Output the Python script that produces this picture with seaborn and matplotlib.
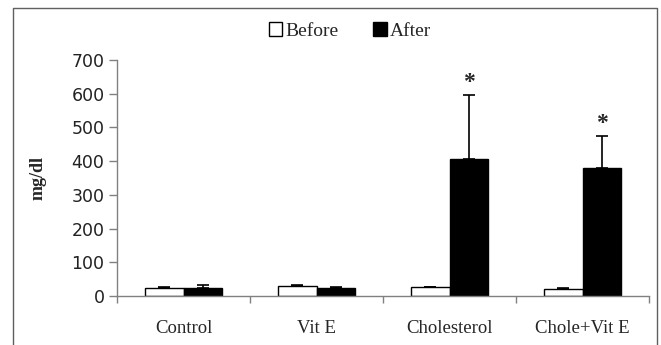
import matplotlib
matplotlib.use("Agg")
import matplotlib.pyplot as plt
import seaborn as sns
import pandas as pd
import numpy as np
from matplotlib.lines import Line2D
from matplotlib.patches import Patch

categories = ["Control", "Vit E", "Cholesterol", "Chole+Vit E"]
before = [24, 31, 27, 22]
before_err = [2, 3, 1, 2]
after = [24, 24, 407, 380]
after_err = [9, 2, 190, 94]
significant = [False, False, True, True]
series = ["Before", "After"]
ytick_vals = [0, 100, 200, 300, 400, 500, 600, 700]

sns.set_theme(style="white")
plt.rcParams["font.family"] = ["Liberation Serif", "DejaVu Serif"]

df = pd.DataFrame({
    "cat": categories * 2,
    "val": before + after,
    "grp": ["Before"] * 4 + ["After"] * 4,
})

fig = plt.figure(figsize=(6.61, 3.45), dpi=100)
ax = fig.add_axes([117 / 661, 1 - 296 / 345, (649 - 117) / 661, (296 - 60) / 345])

sns.barplot(data=df, x="cat", y="val", hue="grp", order=categories,
            hue_order=series, palette={"Before": "white", "After": "black"},
            width=0.58, edgecolor="black", linewidth=1, errorbar=None,
            legend=False, ax=ax)

# error bars on top of bars (upward only)
patches = [p for p in ax.patches if p.get_height() > 0]
n = len(categories)
errs = before_err + after_err
vals = before + after
for i, p in enumerate(patches[:2 * n]):
    xc = p.get_x() + p.get_width() / 2
    ax.errorbar(xc, vals[i], yerr=[[0], [errs[i]]], fmt="none",
                ecolor="black", elinewidth=1.2, capsize=4, capthick=1.2, zorder=1)
    if i >= n and significant[i - n]:
        ax.text(xc, vals[i] + errs[i] + 6, "*", ha="center", va="bottom",
                fontsize=17, fontweight="bold")

ax.set_ylim(0, 700)
ax.set_xlim(-0.5, n - 0.5)
ax.set_yticks(ytick_vals)
ax.set_yticklabels([str(v) for v in ytick_vals], fontsize=12.5, fontfamily="DejaVu Sans",
                   color="#222222")
ax.set_xticks(range(n))
ax.set_xticklabels(categories, fontsize=13.5)
ax.set_xticks(np.arange(-0.5, n, 1.0), minor=True)
ax.tick_params(axis="x", which="major", length=0, pad=17)
ax.tick_params(axis="x", which="minor", length=5, width=1, color="#808080", direction="out", bottom=True)
ax.tick_params(axis="y", which="major", length=6, width=1, color="#808080", direction="out", left=True, pad=3)
ax.set_xlabel("")
ax.set_ylabel("mg/dl", fontsize=13, fontweight="bold", labelpad=18)

for s in ["top", "right"]:
    ax.spines[s].set_visible(False)
for s in ["left", "bottom"]:
    ax.spines[s].set_color("#808080")
    ax.spines[s].set_linewidth(1)

handles = [Patch(facecolor="white", edgecolor="black", linewidth=1),
           Patch(facecolor="black", edgecolor="black", linewidth=1)]
fig.legend(handles, series, loc="center", bbox_to_anchor=(350 / 661, 1 - 31 / 345),
           ncol=2, frameon=False, fontsize=14, handlelength=0.7, handleheight=0.7,
           handletextpad=0.15, columnspacing=1.8)

# outer frame of the image
x0, x1 = 13 / 661, 657 / 661
y0, y1 = 1 - 8 / 345, 0
fig.add_artist(Line2D([x0, x0, x1, x1], [y1, y0, y0, y1], transform=fig.transFigure,
                      color="#606060", linewidth=1))

fig.savefig("out.png", dpi=100)
